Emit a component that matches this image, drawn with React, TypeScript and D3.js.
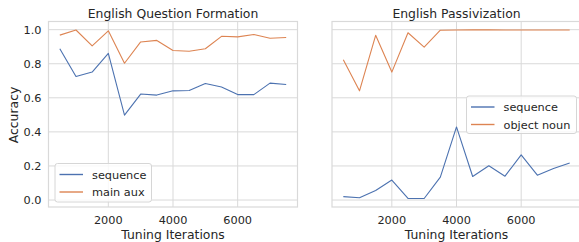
import React from "react";
import * as d3 from "d3";

const iterations = [500, 1000, 1500, 2000, 2500, 3000, 3500, 4000, 4500, 5000, 5500, 6000, 6500, 7000, 7500];
const qfSequence = [0.888, 0.725, 0.751, 0.861, 0.498, 0.622, 0.616, 0.641, 0.643, 0.684, 0.663, 0.619, 0.619, 0.686, 0.678];
const qfMainAux = [0.968, 0.998, 0.905, 0.993, 0.803, 0.928, 0.937, 0.878, 0.873, 0.888, 0.961, 0.958, 0.972, 0.95, 0.954];
const pvSequence = [0.02, 0.013, 0.056, 0.117, 0.009, 0.009, 0.134, 0.429, 0.138, 0.201, 0.14, 0.265, 0.146, 0.185, 0.217];
const pvObjectNoun = [0.824, 0.641, 0.967, 0.751, 0.982, 0.898, 0.997, 0.998, 0.999, 0.999, 0.998, 0.998, 0.998, 0.998, 0.998];
const xTicks = [2000, 4000, 6000];
const yTicks = [0, 0.2, 0.4, 0.6, 0.8, 1.0];

const BLUE = "#4c72b0";
const ORANGE = "#dd8452";
const TEXT = "#262626";
const GRID = "#d9d9d9";
const FONT = "'DejaVu Sans', sans-serif";

type Series = { name: string; values: number[]; color: string };

const H_TOP = 21.5;
const H_BOTTOM = 207;
const y = d3.scaleLinear().domain([-0.041, 1.048]).range([H_BOTTOM, H_TOP]);

function Panel({ left, title, series, showY, legend }: {
  left: number; title: string; series: Series[]; showY: boolean;
  legend: { x: number; y: number; w: number; h: number };
}) {
  const width = 249;
  const x = d3.scaleLinear().domain([150, 7850]).range([left, left + width]);
  const line = d3.line<number>().x((_, i) => x(iterations[i])).y((d) => y(d));
  return (
    <g>
      <rect x={left} y={H_TOP} width={width} height={H_BOTTOM - H_TOP} fill="white" stroke={GRID} strokeWidth={1.2} />
      {xTicks.map((t) => (
        <line key={"gx" + t} x1={x(t)} x2={x(t)} y1={H_TOP} y2={H_BOTTOM} stroke={GRID} strokeWidth={1} />
      ))}
      {yTicks.map((t) => (
        <line key={"gy" + t} x1={left} x2={left + width} y1={y(t)} y2={y(t)} stroke={GRID} strokeWidth={1} />
      ))}
      {series.map((s) => (
        <path key={s.name} d={line(s.values) || ""} fill="none" stroke={s.color} strokeWidth={1.1} strokeLinejoin="round" />
      ))}
      {xTicks.map((t) => (
        <text key={"tx" + t} x={x(t)} y={224} textAnchor="middle" fontSize={11.3} fill={TEXT} fontFamily={FONT}>{t}</text>
      ))}
      {showY && yTicks.map((t) => (
        <text key={"ty" + t} x={left - 7} y={y(t) + 4} textAnchor="end" fontSize={11.3} fill={TEXT} fontFamily={FONT}>{t.toFixed(1)}</text>
      ))}
      <text x={left + width / 2} y={239} textAnchor="middle" fontSize={12.4} fill={TEXT} fontFamily={FONT}>Tuning Iterations</text>
      <text x={left + width / 2} y={17.5} textAnchor="middle" fontSize={12.4} fill={TEXT} fontFamily={FONT}>{title}</text>
      <rect x={legend.x} y={legend.y} width={legend.w} height={legend.h} rx={2.5} fill="white" fillOpacity={0.8} stroke="#d6d6d6" strokeWidth={1} />
      {series.map((s, i) => (
        <g key={"lg" + s.name}>
          <line x1={legend.x + 4.5} x2={legend.x + 28} y1={legend.y + 11 + i * 17.5} y2={legend.y + 11 + i * 17.5} stroke={s.color} strokeWidth={1.4} />
          <text x={legend.x + 37} y={legend.y + 15 + i * 17.5} fontSize={11.3} fill={TEXT} fontFamily={FONT}>{s.name}</text>
        </g>
      ))}
    </g>
  );
}

export default function App() {
  return (
    <svg width={579} height={242} style={{ position: "absolute", left: 0, top: 0, background: "white" }}>
      <rect x={0} y={0} width={579} height={242} fill="white" />
      <Panel
        left={48.5}
        title="English Question Formation"
        showY={true}
        series={[
          { name: "sequence", values: qfSequence, color: BLUE },
          { name: "main aux", values: qfMainAux, color: ORANGE },
        ]}
        legend={{ x: 55, y: 163.5, w: 96.5, h: 38.5 }}
      />
      <Panel
        left={332}
        title="English Passivization"
        showY={false}
        series={[
          { name: "sequence", values: pvSequence, color: BLUE },
          { name: "object noun", values: pvObjectNoun, color: ORANGE },
        ]}
        legend={{ x: 466.5, y: 96, w: 110, h: 37.5 }}
      />
      <text transform="translate(18,115) rotate(-90)" textAnchor="middle" fontSize={12.4} fill={TEXT} fontFamily={FONT}>Accuracy</text>
    </svg>
  );
}
